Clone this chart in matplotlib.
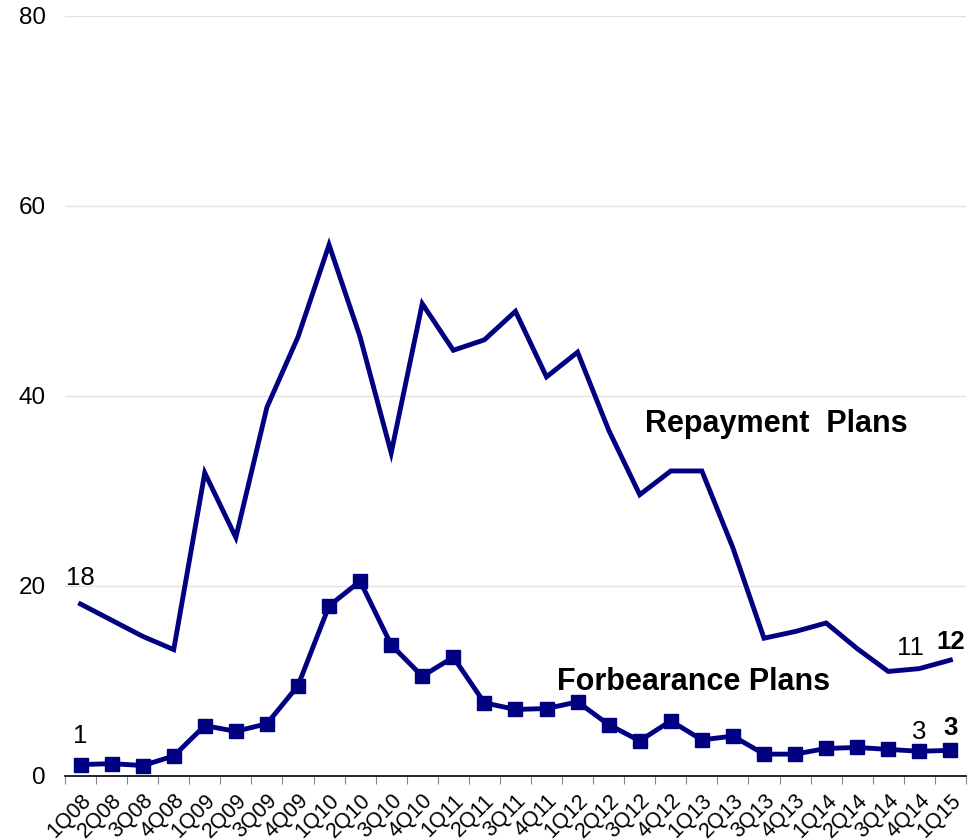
import matplotlib.pyplot as plt
import numpy as np

plt.rcParams['font.family'] = ['Liberation Sans', 'DejaVu Sans']

# quarterly labels 1Q08 .. 1Q15
quarters = ['%dQ%02d' % (q, y) for y in range(8, 15) for q in range(1, 5)] + ['1Q15']

repayment = [18.1, 16.4, 14.7, 13.3, 31.9, 25.1, 38.8, 46.2, 55.9, 46.2,
             34.0, 49.7, 44.8, 45.9, 48.9, 42.0, 44.6, 36.4, 29.6, 32.1,
             32.1, 24.0, 14.5, 15.2, 16.1, 13.4, 11.0, 11.3, 12.2]

forbearance = [1.2, 1.3, 1.1, 2.1, 5.3, 4.7, 5.5, 9.5, 17.9, 20.5,
               13.8, 10.5, 12.5, 7.7, 7.0, 7.1, 7.8, 5.4, 3.7, 5.8,
               3.8, 4.2, 2.3, 2.3, 2.9, 3.0, 2.8, 2.6, 2.7]

navy = '#000080'
x = np.arange(len(quarters))

fig = plt.figure(figsize=(9.77, 8.4), dpi=100)
ax = fig.add_axes([0.0665, 0.0762, 0.9222, 0.905])

ax.plot(x, repayment, color=navy, lw=3.5, solid_joinstyle='miter', zorder=3)
ax.plot(x, forbearance, color=navy, lw=3.5, marker='s', markersize=10.5, zorder=3)

ax.set_xlim(-0.5, len(quarters) - 0.5)
ax.set_ylim(0, 80)
ax.set_yticks([0, 20, 40, 60, 80])
ax.yaxis.grid(True, color='#e2e2e2', lw=1)
ax.set_axisbelow(True)
ax.tick_params(axis='y', length=0, labelsize=17.5, pad=14)

for s in ['left', 'right', 'top']:
    ax.spines[s].set_visible(False)
ax.spines['bottom'].set_color('black')
ax.spines['bottom'].set_linewidth(1.2)

# category ticks between points, labels at the points
ax.set_xticks(np.arange(-0.5, len(quarters)))
ax.set_xticklabels([])
ax.tick_params(axis='x', length=6, color='#888888', direction='out')
ax.set_xticks(x, minor=True)
ax.set_xticklabels(quarters, minor=True, rotation=45, ha='right', va='top',
                   rotation_mode='anchor', fontsize=15.5)
ax.tick_params(axis='x', which='minor', length=0, pad=10)

# value labels at first and last points
def val_label(i, series, dy, bold=False, dx=0.0):
    ax.text(x[i] + dx, series[i] + dy, '%d' % round(series[i]), fontsize=18.5,
            fontweight='bold' if bold else 'normal', ha='center', va='baseline')

val_label(0, repayment, 2.0)
val_label(0, forbearance, 2.3)
val_label(-2, repayment, 1.4, dx=-0.3)
val_label(-2, forbearance, 1.3)
val_label(-1, repayment, 1.2, bold=True)
val_label(-1, forbearance, 1.6, bold=True)

# series names
ax.text(18.17, 36.2, 'Repayment  Plans', fontsize=22, fontweight='bold', ha='left', va='baseline')
ax.text(15.34, 9.05, 'Forbearance Plans', fontsize=22, fontweight='bold', ha='left', va='baseline')

fig.savefig('out.png', dpi=100)
